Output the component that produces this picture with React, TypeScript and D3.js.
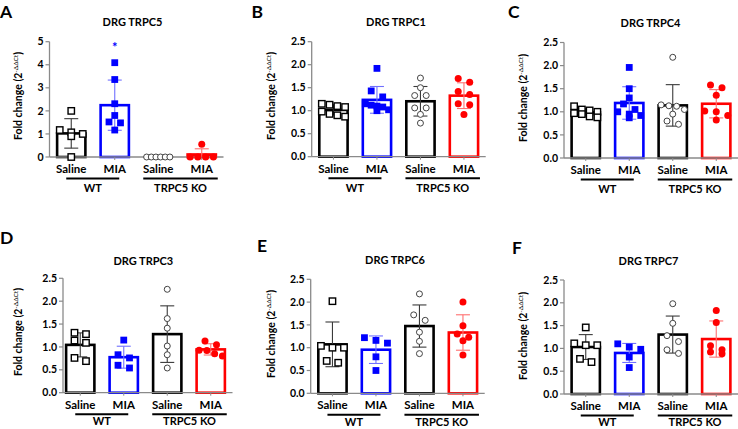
import React from "react";
import * as d3 from "d3";

// ---------- data ----------
const categories = ["Saline", "MIA", "Saline", "MIA"];
const genotypes = ["WT", "TRPC5 KO"];
const panelLetters = ["A", "B", "C", "D", "E", "F"];
const panelTitles = ["DRG TRPC5", "DRG TRPC1", "DRG TRPC4", "DRG TRPC3", "DRG TRPC6", "DRG TRPC7"];
const yTicksTRPC5 = [0, 1, 2, 3, 4, 5];
const yTicksOther = [0, 0.5, 1.0, 1.5, 2.0, 2.5];

// values per group: [WT Saline, WT MIA, KO Saline, KO MIA]
const trpc5Values = [
  [2.0, 1.0, 1.07, 1.17, 0.9, 0.0],
  [4.09, 3.36, 2.31, 1.8, 1.52, 1.48, 1.17],
  [0, 0, 0, 0, 0, 0],
  [0.55, 0, 0, 0, 0],
];
const trpc1Values = [
  [1.13, 1.15, 1.08, 1.1, 0.9, 0.87, 0.93, 0.98],
  [1.92, 1.43, 1.3, 1.15, 1.12, 1.1, 1.08, 1.02, 1.0],
  [1.71, 1.5, 1.33, 1.33, 1.06, 1.06, 0.92, 0.73],
  [1.7, 1.62, 1.42, 1.35, 1.15, 1.13, 0.92],
];
const trpc4Values = [
  [1.12, 1.05, 1.03, 1.0, 0.97, 0.95, 0.9, 0.88],
  [1.96, 1.5, 1.3, 1.17, 1.05, 1.0, 0.95, 0.92, 0.87],
  [2.18, 1.15, 1.13, 1.12, 1.05, 0.95, 0.8, 0.73],
  [1.58, 1.52, 1.36, 1.02, 1.0, 0.92, 0.82],
];
const trpc3Values = [
  [1.28, 1.31, 1.14, 1.09, 0.76, 0.69],
  [1.15, 0.76, 0.83, 0.54, 0.6],
  [2.26, 1.62, 1.41, 1.02, 0.83, 0.54],
  [1.13, 1.05, 0.93, 0.92, 0.85, 0.8],
];
const trpc6Values = [
  [2.02, 1.0, 1.04, 1.0, 0.71, 0.67],
  [1.22, 1.16, 1.1, 0.8, 0.5],
  [2.18, 1.72, 1.6, 1.34, 1.14, 0.87],
  [2.0, 1.48, 1.3, 1.23, 1.15, 0.84],
];
const trpc7Values = [
  [1.46, 1.07, 1.11, 1.07, 0.7, 0.77],
  [1.03, 1.1, 0.98, 0.81, 0.58],
  [1.98, 1.55, 1.28, 1.15, 0.97, 0.89],
  [1.83, 1.57, 1.06, 0.97, 0.88, 0.92],
];
const significance = [{ panel: 0, category: 1, label: "*" }];

const panelValues = [trpc5Values, trpc1Values, trpc4Values, trpc3Values, trpc6Values, trpc7Values];
const panelTicks = [yTicksTRPC5, yTicksOther, yTicksOther, yTicksOther, yTicksOther, yTicksOther];

// ---------- layout / style ----------
const layouts = [
  { axisX: 49.5, bandStart: 49.5, top: 41.7, bottom: 157, letter: [0, 17.5], title: [132.5, 26], ylab: [21.5, 96], gl: 35 },
  { axisX: 311.7, bandStart: 311.7, top: 41.7, bottom: 156.7, letter: [251.5, 17.5], title: [396, 26], ylab: [275, 96], gl: 35 },
  { axisX: 564, bandStart: 564, top: 42.5, bottom: 158, letter: [508, 18], title: [650.5, 26.5], ylab: [527, 98], gl: 35 },
  { axisX: 63, bandStart: 58.5, top: 278.3, bottom: 392.7, letter: [0, 244], title: [143.3, 265], ylab: [21.7, 332], gl: 32.5 },
  { axisX: 310.7, bandStart: 310.7, top: 279.3, bottom: 393.3, letter: [257, 252], title: [395, 263.5], ylab: [275, 334], gl: 32.5 },
  { axisX: 564, bandStart: 564, top: 280, bottom: 394, letter: [512, 254], title: [648.5, 265], ylab: [527, 336], gl: 32 },
];
const PLOT_W = 174;
const FONT = "Lato, 'Open Sans', 'Liberation Sans', sans-serif";
const AXIS_COLOR = "#8a8a8a";
const groupStyles = [
  { color: "#000000", err: "#3a3a3a", shape: "square", fill: "#ffffff" },
  { color: "#0000ff", err: "#7070ff", shape: "square", fill: "#0000ff" },
  { color: "#000000", err: "#3a3a3a", shape: "circle", fill: "#ffffff" },
  { color: "#ff0000", err: "#ff7070", shape: "circle", fill: "#ff0000" },
];

function placePoints(values: number[], y: (v: number) => number, cx: number, barW: number) {
  const items = values.map((v) => ({ v, py: y(v), px: cx }));
  items.sort((a, b) => a.py - b.py);
  const rows: typeof items[] = [];
  for (const it of items) {
    const row = rows[rows.length - 1];
    if (row && it.py - row[0].py <= 6) row.push(it);
    else rows.push([it]);
  }
  for (const row of rows) {
    const n = row.length;
    const sp = n > 1 ? Math.min(11.5, (barW - 5) / (n - 1)) : 0;
    row.forEach((it, j) => (it.px = cx + (j - (n - 1) / 2) * sp));
  }
  return items;
}

function Panel({ idx }: { idx: number }) {
  const L = layouts[idx];
  const ticks = panelTicks[idx];
  const values = panelValues[idx];
  const yMax = ticks[ticks.length - 1];
  const y = d3.scaleLinear().domain([0, yMax]).range([L.bottom, L.top]);
  const x = d3
    .scaleBand<number>()
    .domain(d3.range(categories.length))
    .range([L.bandStart, L.bandStart + PLOT_W])
    .paddingInner(0.35)
    .paddingOuter(0.175);
  const bw = x.bandwidth();
  const fmt = yMax > 3 ? d3.format("d") : d3.format(".1f");
  const centers = categories.map((_, i) => (x(i) as number) + bw / 2);
  const groupSpans = [
    [centers[0] - 5, centers[1] + 4.5],
    [centers[2] - 15, centers[3] + 16],
  ];

  return (
    <g>
      <text x={L.letter[0]} y={L.letter[1]} fontFamily={FONT} fontWeight={700} fontSize={17.5}>
        {panelLetters[idx]}
      </text>
      <text x={L.title[0]} y={L.title[1]} textAnchor="middle" fontFamily={FONT} fontWeight={700} fontSize={11}>
        {panelTitles[idx]}
      </text>
      <text
        transform={`translate(${L.ylab[0]},${L.ylab[1]}) rotate(-90)`}
        textAnchor="middle"
        fontFamily={FONT}
        fontWeight={700}
        fontSize={10.5}
      >
        Fold change (2
        <tspan fontSize={6.5} fontWeight={400} dy={-4}>
          -ΔΔCt
        </tspan>
        <tspan dy={4}>)</tspan>
      </text>

      {/* bars */}
      {values.map((vals, i) => {
        const m = d3.mean(vals) as number;
        const st = groupStyles[i];
        const h = L.bottom - y(m);
        if (h <= 0.5) return null;
        return (
          <rect
            key={"b" + i}
            x={x(i)}
            y={y(m)}
            width={bw}
            height={h}
            fill="#ffffff"
            stroke={st.color}
            strokeWidth={2.6}
          />
        );
      })}

      {/* axes */}
      <line x1={L.axisX} x2={L.axisX} y1={L.top} y2={L.bottom} stroke={AXIS_COLOR} strokeWidth={1.3} />
      <line x1={L.axisX} x2={L.bandStart + PLOT_W} y1={L.bottom} y2={L.bottom} stroke={AXIS_COLOR} strokeWidth={1.3} />
      {ticks.map((t) => (
        <g key={"t" + t}>
          <line x1={L.axisX - 4} x2={L.axisX} y1={y(t)} y2={y(t)} stroke={AXIS_COLOR} strokeWidth={1.2} />
          <text
            x={L.axisX - 6}
            y={y(t)}
            dy="0.35em"
            textAnchor="end"
            fontFamily={FONT}
            fontWeight={700}
            fontSize={10.5}
          >
            {fmt(t)}
          </text>
        </g>
      ))}
      {centers.map((c, i) => (
        <line key={"xt" + i} x1={c} x2={c} y1={L.bottom} y2={L.bottom + 3} stroke={AXIS_COLOR} strokeWidth={1} />
      ))}

      {/* error bars */}
      {values.map((vals, i) => {
        const m = d3.mean(vals) as number;
        const sd = d3.deviation(vals) || 0;
        const st = groupStyles[i];
        const c = centers[i];
        const lo = Math.max(0, m - sd);
        const hi = m + sd;
        if (sd === 0) return null;
        return (
          <g key={"e" + i} stroke={st.err} strokeWidth={1.1}>
            <line x1={c} x2={c} y1={y(hi)} y2={y(lo)} />
            <line x1={c - 7} x2={c + 7} y1={y(hi)} y2={y(hi)} />
            {m - sd > 0 && <line x1={c - 7} x2={c + 7} y1={y(lo)} y2={y(lo)} />}
          </g>
        );
      })}

      {/* points */}
      {values.map((vals, i) => {
        const st = groupStyles[i];
        const pts = placePoints(vals, y, centers[i], bw);
        return (
          <g key={"p" + i}>
            {pts.map((p, j) =>
              st.shape === "square" ? (
                st.fill === "#ffffff" ? (
                  <rect key={j} x={p.px - 3.2} y={p.py - 3.2} width={6.4} height={6.4} fill="#fff" stroke={st.color} strokeWidth={1.4} />
                ) : (
                  <rect key={j} x={p.px - 3.4} y={p.py - 3.4} width={6.8} height={6.8} fill={st.fill} />
                )
              ) : st.fill === "#ffffff" ? (
                <circle key={j} cx={p.px} cy={p.py} r={3.0} fill="#fff" stroke="#444" strokeWidth={1} />
              ) : (
                <circle key={j} cx={p.px} cy={p.py} r={3.5} fill={st.fill} />
              )
            )}
          </g>
        );
      })}

      {significance
        .filter((s) => s.panel === idx)
        .map((s, k) => (
          <text
            key={"s" + k}
            x={centers[s.category]}
            y={L.top + 10}
            textAnchor="middle"
            fontFamily={FONT}
            fontWeight={700}
            fontSize={13}
            fill={groupStyles[s.category].color}
          >
            {s.label}
          </text>
        ))}

      {/* category labels */}
      {categories.map((c, i) => (
        <text
          key={"c" + i}
          x={centers[i]}
          y={L.bottom + 16}
          textAnchor="middle"
          fontFamily={FONT}
          fontWeight={700}
          fontSize={11.5}
        >
          {c}
        </text>
      ))}
      {genotypes.map((g, k) => (
        <g key={"g" + k}>
          <line
            x1={groupSpans[k][0]}
            x2={groupSpans[k][1]}
            y1={L.bottom + 21.5}
            y2={L.bottom + 21.5}
            stroke="#000"
            strokeWidth={2}
          />
          <text
            x={(groupSpans[k][0] + groupSpans[k][1]) / 2}
            y={L.bottom + L.gl}
            textAnchor="middle"
            fontFamily={FONT}
            fontWeight={700}
            fontSize={11}
          >
            {g}
          </text>
        </g>
      ))}
    </g>
  );
}

export default function App() {
  return (
    <svg
      width={738}
      height={429}
      viewBox="0 0 738 429"
      style={{ position: "absolute", left: 0, top: 0, background: "#fff" }}
    >
      <rect width={738} height={429} fill="#fff" />
      {layouts.map((_, i) => (
        <Panel key={i} idx={i} />
      ))}
    </svg>
  );
}
